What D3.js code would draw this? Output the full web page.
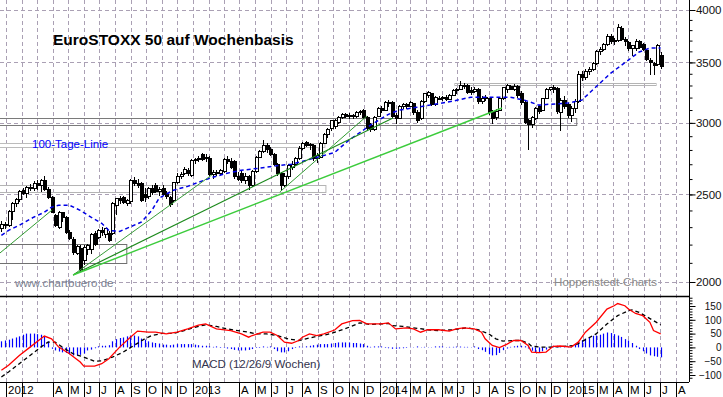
<!DOCTYPE html>
<html>
<head>
<meta charset="utf-8">
<script src="https://cdn.jsdelivr.net/npm/d3@7"></script>
<style>
  html, body { margin: 0; padding: 0; background: #fff; }
  svg { display: block; font-family: Arial, "Liberation Sans", sans-serif; }
</style>
</head>
<body>
<svg id="chart" width="723" height="397"></svg>
<script>
// weekly candles, first bar = week ending 23 Dec 2011
const firstWeek = new Date(2011, 11, 23);

const open = [2290,2316,2310,2395,2440,2470,2525,2505,2545,2540,2570,2555,2590,2530,2480,2370,2300,2385,2355,2270,
  2230,2150,2180,2110,2170,2170,2265,2240,2280,2260,2265,2265,2430,2475,2480,2445,2455,2590,2570,2570,
  2500,2490,2540,2560,2520,2540,2500,2480,2460,2575,2620,2640,2660,2625,2725,2730,2765,2740,2740,2630,
  2645,2640,2650,2735,2720,2720,2620,2640,2590,2620,2560,2650,2750,2790,2830,2800,2770,2700,2640,2560,
  2620,2680,2700,2740,2810,2855,2830,2830,2740,2750,2850,2910,2960,2970,3000,3045,3065,3050,3060,3050,
  3080,3095,3040,2980,2950,3050,3110,3095,3150,3160,3060,3035,3130,3145,3130,3150,3080,3030,3170,3220,
  3235,3140,3195,3190,3200,3185,3220,3255,3270,3300,3300,3260,3250,3270,3170,3190,3190,3090,3040,3100,
  3190,3270,3290,3270,3290,3230,3160,3020,2990,3030,3130,3100,3195,3265,3280,3275,3080,3180,3140,3060,
  3110,3170,3390,3370,3420,3440,3490,3600,3620,3660,3740,3690,3700,3820,3710,3685,3630,3630,3690,3660,
  3610,3520,3490,3480,3560];
const high = [2335,2330,2405,2450,2480,2530,2540,2555,2570,2585,2595,2600,2620,2545,2490,2380,2395,2390,2365,2285,
  2245,2200,2195,2195,2205,2265,2275,2290,2300,2295,2280,2450,2480,2490,2490,2470,2600,2615,2600,2580,
  2540,2550,2560,2575,2550,2560,2520,2490,2580,2640,2645,2680,2675,2735,2740,2760,2780,2770,2755,2660,
  2660,2670,2740,2760,2740,2730,2650,2660,2640,2630,2660,2760,2800,2870,2850,2820,2780,2710,2650,2640,
  2700,2720,2750,2830,2860,2865,2850,2840,2780,2860,2920,2960,3025,3030,3055,3080,3080,3075,3070,3090,
  3100,3110,3050,3000,3050,3125,3130,3170,3180,3170,3075,3140,3160,3160,3175,3160,3100,3180,3240,3255,
  3240,3210,3210,3210,3220,3230,3270,3280,3340,3320,3310,3290,3285,3280,3210,3220,3200,3100,3110,3200,
  3290,3310,3300,3310,3300,3250,3180,3030,3050,3120,3140,3200,3280,3290,3300,3285,3200,3210,3160,3130,
  3190,3420,3420,3440,3460,3500,3610,3640,3680,3760,3760,3720,3860,3840,3730,3700,3660,3715,3710,3680,
  3625,3540,3500,3670,3590];
const low = [2270,2290,2300,2340,2420,2450,2495,2480,2520,2525,2530,2515,2520,2470,2385,2300,2290,2330,2260,2225,
  2145,2140,2050,2090,2140,2150,2190,2230,2250,2240,2215,2255,2370,2440,2440,2430,2440,2555,2540,2450,
  2450,2470,2495,2510,2490,2490,2470,2420,2450,2570,2600,2630,2620,2615,2700,2715,2720,2715,2620,2600,
  2620,2625,2640,2700,2670,2600,2590,2575,2570,2530,2550,2640,2740,2780,2780,2760,2690,2620,2525,2550,
  2600,2660,2690,2730,2800,2820,2800,2720,2710,2740,2840,2890,2940,2950,2990,3030,3040,3030,3030,3040,
  3060,3030,2940,2930,2940,3045,3080,3090,3120,3040,2990,3030,3110,3110,3120,3060,3000,3020,3160,3200,
  3130,3130,3180,3170,3170,3180,3210,3230,3260,3270,3230,3220,3240,3150,3150,3170,3060,2990,3020,3090,
  3180,3240,3260,3250,3200,3140,2990,2800,2960,3020,3070,3090,3190,3250,3240,3070,2940,3110,3040,3010,
  3080,3160,3340,3350,3390,3420,3480,3570,3600,3650,3670,3660,3690,3700,3650,3600,3560,3600,3620,3600,
  3510,3390,3390,3470,3440];
const close = [2316,2310,2395,2440,2470,2520,2505,2545,2540,2570,2555,2590,2530,2480,2390,2312,2385,2360,2270,2235,
  2155,2190,2065,2185,2195,2260,2200,2280,2270,2290,2225,2440,2475,2460,2450,2460,2590,2570,2560,2460,
  2480,2540,2510,2520,2530,2500,2490,2435,2575,2620,2630,2665,2640,2725,2730,2740,2735,2750,2630,2645,
  2640,2655,2730,2720,2680,2620,2600,2590,2620,2555,2650,2750,2790,2830,2800,2770,2700,2640,2560,2620,
  2690,2700,2740,2810,2850,2830,2840,2740,2760,2850,2910,2950,3015,3020,3045,3065,3050,3060,3050,3080,
  3090,3040,2960,2950,3040,3115,3095,3160,3160,3050,3030,3130,3145,3130,3160,3080,3020,3170,3230,3240,
  3140,3200,3190,3200,3185,3220,3260,3270,3300,3290,3245,3240,3270,3170,3190,3200,3080,3030,3090,3190,
  3280,3300,3270,3290,3220,3160,3000,2990,3040,3110,3085,3195,3270,3280,3270,3090,3180,3130,3060,3110,
  3170,3390,3370,3420,3440,3490,3600,3620,3660,3740,3690,3700,3830,3710,3690,3630,3650,3690,3640,3615,
  3525,3500,3470,3650,3460];

// 100-Tage-Linie (week index, value)
const maWeek = [0,2,5,9,12,14,16,19,22,25,28,30,33,35,39,42,44,48,52,55,59,63,67,72,78,81,87,93,97,103,
  108,111,116,121,126,131,137,142,146,150,153,158,162,165,170,175,178,181,184];
const maVal = [2252,2281,2311,2359,2389,2420,2432,2432,2401,2359,2323,2281,2275,2293,2329,2401,2476,2527,2552,2579,
  2612,2639,2659,2673,2693,2700,2740,2782,2871,2983,3066,3099,3122,3146,3171,3203,3203,3203,3179,3139,
  3146,3155,3179,3262,3404,3521,3594,3630,3630];

// MACD (12/26/9) lines
const macdWeek = [0,2,5,8,11,12,14,16,19,22,23,26,28,30,33,36,38,41,43,46,49,52,55,57,60,64,67,69,70,73,
  75,77,79,81,83,84,86,88,90,93,95,98,100,102,106,108,110,113,115,117,119,122,125,127,129,132,134,135,137,139,
  141,143,145,147,148,150,152,154,156,159,161,163,166,169,171,172,174,175,177,179,181,182,184];
const macdVal = [-83,-65,-29,1,31,41,31,1,-23,-53,-68,-68,-59,-41,1,37,59,55,55,49,55,67,81,85,67,61,49,37,43,55,
  55,43,19,15,25,37,49,43,49,63,85,97,98,85,85,89,67,71,67,55,64,64,59,67,71,67,55,31,7,-1,
  11,25,25,7,-17,-19,-17,4,5,1,19,55,91,139,151,159,151,139,123,115,91,61,49];
const sigWeek = [0,2,5,8,11,13,15,17,20,23,26,28,31,34,37,40,42,45,48,51,54,57,60,63,66,69,71,74,77,80,
  83,85,88,91,94,97,100,103,106,108,109,112,115,119,122,126,130,133,136,138,140,143,145,147,148,151,154,157,160,163,
  166,169,172,175,176,178,180,182,184];
const sigVal = [-107,-89,-59,-29,1,19,19,1,-23,-35,-50,-49,-35,-17,7,31,43,51,51,61,73,82,76,67,61,55,49,49,43,31,
  25,31,40,47,59,73,89,83,85,87,79,76,71,64,61,64,71,64,49,31,23,25,25,15,4,1,1,4,7,28,
  49,85,115,133,136,127,112,97,82];
const histVal = [22,25,28,32,36,40,46,50,50,50,48,46,40,22,-5,-11,-15,-18,-20,-25,
  -29,-29,-27,-22,-11,-8,-3,4,6,6,8,22,30,34,36,40,43,43,40,32,
  28,22,18,16,14,10,10,8,10,12,12,12,12,12,10,8,6,6,4,2,
  0,-2,-2,-4,-6,-9,-11,-11,-11,-9,-6,-2,-2,0,2,0,-6,-14,-18,-18,
  -14,-6,-2,0,2,4,6,8,10,12,12,12,14,16,18,18,18,18,16,16,
  14,12,6,2,0,0,0,-2,-3,-5,-5,-4,-3,-2,-1,-1,0,1,2,1,
  1,0,0,0,1,2,2,3,3,2,2,1,0,-6,-10,-16,-25,-29,-28,-20,
  -10,-4,2,4,6,6,4,-4,-12,-18,-18,-14,-8,2,6,6,4,2,2,4,
  12,18,26,32,38,42,43,46,50,54,52,48,43,38,30,25,16,6,-6,-14,
  -22,-29,-32,-34,-36];

// axis ticks and labels
const priceMajor = [2000, 2500, 3000, 3500, 4000];
const priceMinor = d3.range(2000, 4001, 100);
const macdMajor = [-100, -50, 0, 50, 100, 150];
const macdMinor = d3.range(-110, 181, 10);
const monthLetters = ['J','F','M','A','M','J','J','A','S','O','N','D'];
const skipMonths = ['2012-1','2012-2','2013-1','2013-2','2014-1','2015-1'];
const noTickMonths = ['2012-2','2013-2'];

// drawn zones and trend lines [date, value]
const zones = [
  { from: new Date(2011, 11, 1), to: new Date(2015, 0, 20), lo: 2984, hi: 3038, color: '#7a7a7a' },
  { from: new Date(2014, 4, 27), to: new Date(2015, 5, 24), lo: 3300, hi: 3325, color: '#b4b4b4' },
  { from: new Date(2011, 11, 1), to: new Date(2013, 8, 15), lo: 2821, hi: 2847, color: '#bcbcbc' },
  { from: new Date(2011, 11, 1), to: new Date(2013, 8, 17), lo: 2516, hi: 2561, color: '#b4b4b4' },
  { from: new Date(2011, 11, 1), to: new Date(2012, 7, 24), lo: 2099, hi: 2203, color: '#707070' }
];
const trendLines = [
  { a: [new Date(2011, 11, 20), 2153], b: [new Date(2012, 2, 31), 2403], color: '#2f9a2f', w: 1 },
  { a: [new Date(2012, 4, 11), 2036], b: [new Date(2013, 1, 6), 2627], color: '#3a9d3a', w: 1 },
  { a: [new Date(2012, 4, 11), 2036], b: [new Date(2014, 0, 26), 3038], color: '#1d8a1d', w: 1.2 },
  { a: [new Date(2012, 4, 11), 2036], b: [new Date(2014, 7, 27), 3116], color: '#3ccc3c', w: 1.4 },
  { a: [new Date(2013, 5, 19), 2516], b: [new Date(2013, 11, 6), 3053], color: '#2f9a2f', w: 1 }
];

const svg = d3.select('#chart');
const plotRight = 689;
const mainBottom = 296;
const macdBottom = 382;

const x = d3.scaleTime()
  .domain([new Date(2012, 0, 1), new Date(2015, 0, 1)])
  .range([6, 567]);
const y = d3.scaleLog().domain([2000, 4000]).range([282, 10]);
const ym = d3.scaleLinear().domain([-100, 150]).range([375, 306]);

const weekDate = i => d3.timeDay.offset(firstWeek, 7 * i);
const bars = close.map((c, i) => ({ date: weekDate(i), o: open[i], h: high[i], l: low[i], c: c }));

const gridColor = '#aaa0b4';

// vertical month grid
const months = d3.timeMonth.range(new Date(2012, 0, 1), new Date(2015, 7, 2));
svg.append('g')
  .selectAll('line')
  .data(months)
  .enter()
  .append('line')
  .attr('x1', d => Math.round(x(d)) + 0.5)
  .attr('x2', d => Math.round(x(d)) + 0.5)
  .attr('y1', 0)
  .attr('y2', macdBottom)
  .attr('stroke', gridColor)
  .attr('stroke-dasharray', '4,3');

// horizontal price grid
svg.append('g')
  .selectAll('line')
  .data(priceMajor)
  .enter()
  .append('line')
  .attr('x1', 0)
  .attr('x2', plotRight)
  .attr('y1', d => Math.round(y(d)) + 0.5)
  .attr('y2', d => Math.round(y(d)) + 0.5)
  .attr('stroke', gridColor)
  .attr('stroke-dasharray', '4,3');

// zones
svg.append('g')
  .selectAll('rect')
  .data(zones)
  .enter()
  .append('rect')
  .attr('x', d => Math.max(-1, x(d.from)))
  .attr('y', d => Math.round(y(d.hi)) + 0.5)
  .attr('width', d => x(d.to) - Math.max(-1, x(d.from)))
  .attr('height', d => Math.round(y(d.lo)) - Math.round(y(d.hi)))
  .attr('fill', 'none')
  .attr('stroke', d => d.color)
  .attr('stroke-width', 1);

// candles
const candles = svg.append('g').attr('shape-rendering', 'crispEdges');
candles.selectAll('line')
  .data(bars)
  .enter()
  .append('line')
  .attr('x1', d => Math.round(x(d.date)) + 0.5)
  .attr('x2', d => Math.round(x(d.date)) + 0.5)
  .attr('y1', d => y(d.h))
  .attr('y2', d => y(d.l))
  .attr('stroke', '#000');
candles.selectAll('rect')
  .data(bars)
  .enter()
  .append('rect')
  .attr('x', d => Math.round(x(d.date)) - 1)
  .attr('width', 3)
  .attr('y', d => y(Math.max(d.o, d.c)))
  .attr('height', d => Math.max(1, Math.abs(y(d.o) - y(d.c))))
  .attr('fill', d => d.c >= d.o ? '#fff' : '#000')
  .attr('stroke', '#000');

// 100-Tage-Linie
const maLine = d3.line().x(d => x(weekDate(d[0]))).y(d => y(d[1]));
svg.append('path')
  .datum(maWeek.map((w, i) => [w, maVal[i]]))
  .attr('d', maLine)
  .attr('fill', 'none')
  .attr('stroke', '#0000e6')
  .attr('stroke-width', 1.5)
  .attr('stroke-dasharray', '4,3');

// trend lines
svg.append('g')
  .selectAll('line')
  .data(trendLines)
  .enter()
  .append('line')
  .attr('x1', d => x(d.a[0]))
  .attr('y1', d => y(d.a[1]))
  .attr('x2', d => x(d.b[0]))
  .attr('y2', d => y(d.b[1]))
  .attr('stroke', d => d.color)
  .attr('stroke-width', d => d.w);

// MACD histogram
svg.append('g')
  .selectAll('line')
  .data(histVal)
  .enter()
  .append('line')
  .attr('x1', (d, i) => Math.round(x(weekDate(i))) + 0.5)
  .attr('x2', (d, i) => Math.round(x(weekDate(i))) + 0.5)
  .attr('y1', ym(0))
  .attr('y2', d => d === 0 ? ym(0) - 1 : ym(d))
  .attr('stroke', '#0000ff')
  .attr('stroke-width', 1.2);

const macdLine = d3.line().x(d => x(weekDate(d[0]))).y(d => ym(d[1]));
svg.append('path')
  .datum(sigWeek.map((w, i) => [w, sigVal[i]]))
  .attr('d', macdLine)
  .attr('fill', 'none')
  .attr('stroke', '#000')
  .attr('stroke-width', 1.3)
  .attr('stroke-dasharray', '4,3');
svg.append('path')
  .datum(macdWeek.map((w, i) => [w, macdVal[i]]))
  .attr('d', macdLine)
  .attr('fill', 'none')
  .attr('stroke', '#ff0000')
  .attr('stroke-width', 1.3);

// frame lines
svg.append('line')
  .attr('x1', 0).attr('x2', plotRight)
  .attr('y1', mainBottom + 0.5).attr('y2', mainBottom + 0.5)
  .attr('stroke', '#000').attr('stroke-width', 1.5);
svg.append('line')
  .attr('x1', 0).attr('x2', plotRight)
  .attr('y1', macdBottom + 0.5).attr('y2', macdBottom + 0.5)
  .attr('stroke', '#000').attr('stroke-width', 1.2);
svg.append('line')
  .attr('x1', plotRight + 0.5).attr('x2', plotRight + 0.5)
  .attr('y1', 0).attr('y2', macdBottom)
  .attr('stroke', '#000');

// right price axis
const rightAxis = svg.append('g').attr('transform', 'translate(' + (plotRight + 0.5) + ',0)');
rightAxis.call(d3.axisRight(y).tickValues(priceMinor).tickSize(3).tickFormat(''))
  .call(g => g.select('.domain').remove());
rightAxis.append('g')
  .call(d3.axisRight(y).tickValues(priceMajor).tickSize(6).tickFormat(d3.format('d')))
  .call(g => g.select('.domain').remove())
  .call(g => g.selectAll('text')
    .attr('x', 32).attr('text-anchor', 'end')
    .attr('font-size', 11.5).attr('fill', '#111')
    .attr('font-family', 'Arial, "Liberation Sans", sans-serif'));

// right MACD axis
const macdAxis = svg.append('g').attr('transform', 'translate(' + (plotRight + 0.5) + ',0)');
macdAxis.call(d3.axisRight(ym).tickValues(macdMinor).tickSize(3).tickFormat(''))
  .call(g => g.select('.domain').remove());
macdAxis.append('g')
  .call(d3.axisRight(ym).tickValues(macdMajor).tickSize(6).tickFormat(d3.format('d')))
  .call(g => g.select('.domain').remove())
  .call(g => g.selectAll('text')
    .attr('x', 32).attr('text-anchor', 'end')
    .attr('font-size', 10).attr('fill', '#111')
    .attr('font-family', 'Arial, "Liberation Sans", sans-serif'));

// bottom month axis
const monthKey = d => d.getFullYear() + '-' + d.getMonth();
const bottom = svg.append('g');
bottom.selectAll('line')
  .data(months.filter(d => noTickMonths.indexOf(monthKey(d)) < 0))
  .enter()
  .append('line')
  .attr('x1', d => Math.round(x(d)) + 0.5)
  .attr('x2', d => Math.round(x(d)) + 0.5)
  .attr('y1', macdBottom)
  .attr('y2', 397)
  .attr('stroke', '#000');
bottom.selectAll('text')
  .data(months.filter(d => skipMonths.indexOf(monthKey(d)) < 0))
  .enter()
  .append('text')
  .attr('x', d => Math.round(x(d)) + 2)
  .attr('y', 393.5)
  .attr('font-size', 11.5)
  .attr('fill', '#000')
  .text(d => d.getMonth() === 0 ? d.getFullYear() : monthLetters[d.getMonth()]);

// texts
svg.append('text')
  .attr('x', 53).attr('y', 45)
  .attr('font-size', 15.5).attr('font-weight', 'bold').attr('fill', '#000')
  .text('EuroSTOXX 50 auf Wochenbasis');
svg.append('text')
  .attr('x', 32).attr('y', 148)
  .attr('font-size', 11.5).attr('fill', '#0000ff')
  .text('100-Tage-Linie');
svg.append('text')
  .attr('x', 15).attr('y', 287)
  .attr('font-size', 11.5).attr('fill', '#7a8090')
  .text('www.chartbuero.de');
svg.append('text')
  .attr('x', 657).attr('y', 286).attr('text-anchor', 'end')
  .attr('font-size', 11.5).attr('fill', '#8a8a8a')
  .text('Hoppenstedt-Charts');
svg.append('text')
  .attr('x', 192).attr('y', 368)
  .attr('font-size', 11.5).attr('fill', '#33334d')
  .text('MACD (12/26/9 Wochen)');
</script>
</body>
</html>
